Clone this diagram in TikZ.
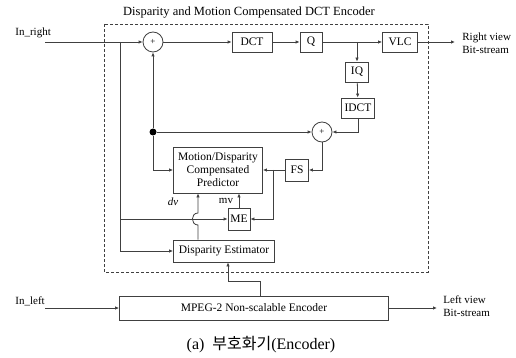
\documentclass[tikz,border=0pt]{standalone}
\usepackage{fontspec}
\setmainfont{Liberation Serif}
\newfontfamily\krfont{Noto Sans CJK KR}
\usetikzlibrary{arrows.meta}
\begin{document}
\begin{tikzpicture}[x=1pt,y=-1pt,>={Latex[length=4pt,width=3.5pt]},
    line width=0.8pt,draw=black!75,
    blk/.style={draw,inner sep=0pt,align=center,font=\fontsize{11.5}{13}\selectfont},
    adder/.style={draw,circle,minimum size=20pt,inner sep=0pt,font=\fontsize{9}{9}\selectfont},
    lbl/.style={font=\fontsize{11}{12.5}\selectfont,align=left,inner sep=0pt}]
        \useasboundingbox (0,0) rectangle (516,358);
        \draw[densely dashed] (104,24) rectangle (428,272);
        \node[lbl,font=\fontsize{12.5}{13}\selectfont] (title) at (249,13) {Disparity and Motion Compensated DCT Encoder};
        \node[adder] (sum1) at (153,42) {+};
        \node[blk,minimum width=40pt,minimum height=20pt] (dct) at (252,42) {DCT};
        \node[blk,minimum width=22pt,minimum height=20pt] (q) at (311,42) {Q};
        \node[blk,minimum width=35pt,minimum height=20pt] (vlc) at (400,42) {VLC};
        \node[blk,minimum width=23pt,minimum height=20pt] (iq) at (357,72) {IQ};
        \node[blk,minimum width=33pt,minimum height=20pt] (idct) at (358,108) {IDCT};
        \node[adder] (sum2) at (322,132) {+};
        \node[fill,circle,inner sep=0pt,minimum size=7pt] (dot) at (153,132) {};
        \node[blk,minimum width=89pt,minimum height=46pt] (pred) at (218,170) {Motion/Disparity\\Compensated\\Predictor};
        \node[blk,minimum width=23pt,minimum height=22pt] (fs) at (297,170) {FS};
        \node[blk,minimum width=22pt,minimum height=22pt] (me) at (239,219) {ME};
        \node[blk,minimum width=101pt,minimum height=22pt] (de) at (224,251) {Disparity Estimator};
        \node[blk,minimum width=269pt,minimum height=24pt] (mpeg) at (254,308) {MPEG-2 Non-scalable Encoder};
        \coordinate (inr) at (45,42);
        \coordinate (out1) at (455,42);
        \coordinate (inl) at (45,308);
        \coordinate (out2) at (437,308);
        \coordinate (br1) at (357,42);
        \coordinate (br2) at (273,170);
        \coordinate (br3) at (120,42);
        \coordinate (br4) at (120,219);
        \node[lbl,anchor=south west] (inrl) at (15,38) {In\_right};
        \node[lbl,anchor=south west] (inll) at (15,306) {In\_left};
        \node[lbl,anchor=west] (rv) at (462,43) {Right view\\Bit-stream};
        \node[lbl,anchor=west] (lv) at (443,306) {Left view\\Bit-stream};
        \node[lbl] (dv) at (173,202) {\textit{dv}};
        \node[lbl] (mv) at (226,201) {mv};
        \draw[->] (inr) -- (sum1.west);
        \draw[->] (sum1) -- (dct);
        \draw[->] (dct) -- (q);
        \draw[->] (q) -- (vlc);
        \draw[->] (vlc) -- (out1);
        \draw[->] (br1) -- (iq);
        \draw[->] (iq) -- (idct);
        \draw[->] (idct.south) |- (sum2.east);
        \draw[->] (dot) -- (sum1.south);
        \draw[->] (dot) -- (sum2.west);
        \draw[->] (dot) |- (pred.west);
        \draw[->] (sum2.south) |- (fs.east);
        \draw[->] (fs) -- (pred.east);
        \draw[->] (br2) |- (me.east);
        \draw[->] (me.north) -- (me.north |- pred.south);
        \draw[->] (br3) |- (de.west);
        \draw[->] (br4) -- (me.west);
        \draw[->] ([xshift=-26pt]de.north) -- (198,225) to[out=180,in=180,looseness=1.6] (198,213) -- ([xshift=-20pt]pred.south);
        \draw[->] ([xshift=6pt]mpeg.north) -- ++(0,-14) -| ([xshift=4pt]de.south);
        \draw[->] (inl) -- (mpeg.west);
        \draw[->] (mpeg.east) -- (out2);
        \node[font=\fontsize{16}{16}\selectfont] (cap) at (261,345) {(a)\enspace{\krfont 부호화기}(Encoder)};
\end{tikzpicture}
\end{document}
